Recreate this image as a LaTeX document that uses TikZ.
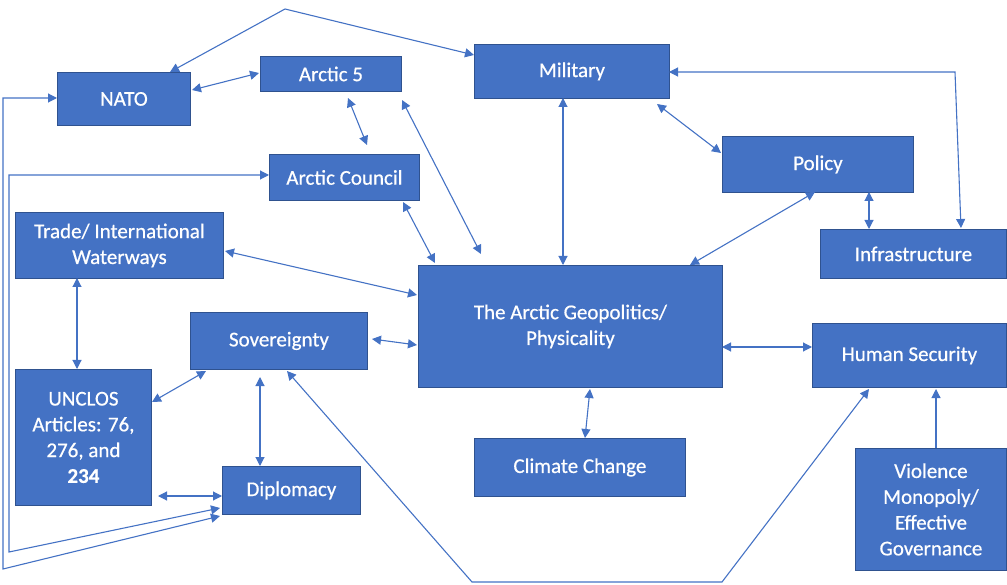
\documentclass[tikz,border=0pt]{standalone}
\usepackage{fontspec}
\setmainfont{Carlito}
\usetikzlibrary{arrows.meta,calc}
\definecolor{boxblue}{HTML}{4472C4}
\definecolor{boxedge}{HTML}{2F528F}
\begin{document}
\begin{tikzpicture}[x=1pt,y=-1pt,
  box/.style={draw=boxedge,line width=0.9pt,fill=boxblue,text=white,anchor=north west,
    inner sep=0pt,align=center,font=\fontsize{21}{25.8}\selectfont\addfontfeature{FakeBold=0.6}},
  link/.style={draw=boxblue,line width=1.1pt,{Triangle[length=9pt,width=9pt]}-{Triangle[length=9pt,width=9pt]}},
  onelink/.style={draw=boxblue,line width=1.1pt,-{Triangle[length=9pt,width=9pt]}}]
\useasboundingbox (0,0) rectangle (1007,585);
% boxes
\node[box,minimum width=133pt,minimum height=53pt] (nato) at (57,72) {NATO};
\node[box,minimum width=141pt,minimum height=35pt] (a5) at (260,56) {Arctic 5};
\node[box,minimum width=195pt,minimum height=54pt] (mil) at (474,44) {Military};
\node[box,minimum width=150pt,minimum height=46pt] (ac) at (269,154) {Arctic Council};
\node[box,minimum width=191pt,minimum height=56pt] (pol) at (722,136) {Policy};
\node[box,minimum width=186pt,minimum height=49pt] (inf) at (820,229) {Infrastructure};
\node[box,minimum width=208pt,minimum height=66pt] (trade) at (15,212) {Trade/ International\\Waterways};
\node[box,minimum width=304pt,minimum height=122pt] (geo) at (418,265) {The Arctic Geopolitics/\\Physicality};
\node[box,minimum width=177pt,minimum height=57pt] (sov) at (190,312) {Sovereignty};
\node[box,minimum width=194pt,minimum height=64pt] (hs) at (812,323) {Human Security};
\node[box,minimum width=136pt,minimum height=136pt] (unclos) at (15,369) {UNCLOS\\Articles: 76,\\276, and\\\textbf{234}};
\node[box,minimum width=138pt,minimum height=48pt] (dip) at (222,466) {Diplomacy};
\node[box,minimum width=211pt,minimum height=58pt] (cc) at (474,438) {Climate Change};
\node[box,minimum width=151pt,minimum height=122pt] (vio) at (855,448) {Violence\\Monopoly/\\Effective\\Governance};
% connectors
\draw[link] ([shift={(135,18)}]nato.north west) -- ([shift={(-1,17)}]a5.north west);
\draw[link] ([shift={(88,42)}]a5.north west) -- ([shift={(98,-9)}]ac.north west);
\draw[link] ([shift={(142,44)}]a5.north west) -- ([shift={(63,-11)}]geo.north west);
\draw[link] ([shift={(134,48)}]ac.north west) -- ([shift={(17,-2)}]geo.north west);
\draw[link] ([shift={(210,39)}]trade.north west) -- ([shift={(-1,30)}]geo.north west);
\draw[link] ([shift={(182,27)}]sov.north west) -- ([shift={(-1,80)}]geo.north west);
\draw[link] ([shift={(89,54)}]mil.north west) -- ([shift={(145,0)}]geo.north west);
\draw[link] ([shift={(183,60)}]mil.north west) -- ([shift={(-1,17)}]pol.north west);
\draw[link] ([shift={(93,56)}]pol.north west) -- ([shift={(272,0)}]geo.north west);
\draw[link] ([shift={(147,56)}]pol.north west) -- ([shift={(49,0)}]inf.north west);
\draw[link] ([shift={(195,28)}]mil.north west) -- ++(286,0) -- ([shift={(141,-1)}]inf.north west);
\draw[link] ([shift={(113,0)}]nato.north west) -- ++(115,-63) -- ([shift={(0,11)}]mil.north west);
\draw[link] ([shift={(62,66)}]trade.north west) -- ([shift={(62,0)}]unclos.north west);
\draw[link] ([shift={(137,33)}]unclos.north west) -- ([shift={(16,59)}]sov.north west);
\draw[link] ([shift={(70,65)}]sov.north west) -- ([shift={(38,0)}]dip.north west);
\draw[link] ([shift={(143,127)}]unclos.north west) -- ([shift={(0,30)}]dip.north west);
\draw[link] ([shift={(172,124)}]geo.north west) -- ([shift={(111,0)}]cc.north west);
\draw[link] ([shift={(304,82)}]geo.north west) -- ([shift={(0,24)}]hs.north west);
\draw[onelink] ([shift={(81,0)}]vio.north west) -- ([shift={(124,66)}]hs.north west);
\draw[link] ([shift={(97,59)}]sov.north west) -- ++(185,211) -- ++(250,0) -- ([shift={(57,66)}]hs.north west);
\draw[link] ([shift={(0,26)}]nato.north west) -- ++(-54,0) -- ++(0,471) -- ([shift={(-2,50)}]dip.north west);
\draw[link] ([shift={(0,21)}]ac.north west) -- ++(-260,0) -- ++(0,377) -- ([shift={(-2,42)}]dip.north west);
\end{tikzpicture}
\end{document}
